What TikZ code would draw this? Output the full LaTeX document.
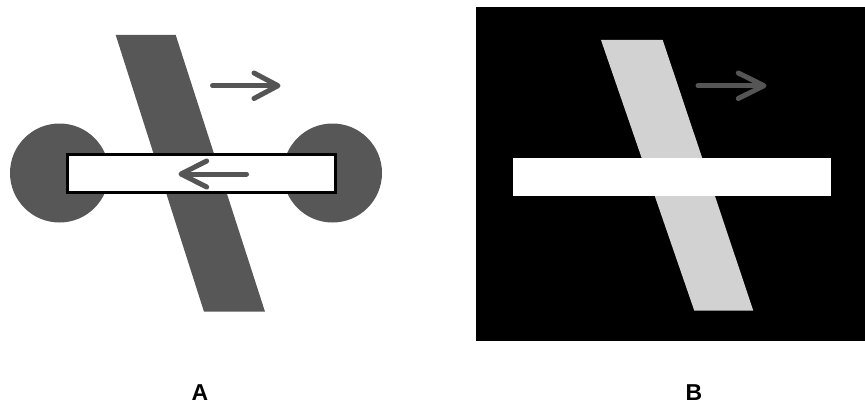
\documentclass[tikz,border=0pt]{standalone}
\usepackage{fontspec}
\setmainfont{Liberation Sans}
\definecolor{bargray}{RGB}{87,87,87}
\definecolor{arrowgray}{RGB}{85,85,85}
\definecolor{lightbar}{RGB}{210,210,210}
\begin{document}
\begin{tikzpicture}[x=1pt,y=-1pt,
  darkgray/.style={fill=bargray},
  arrowline/.style={draw=arrowgray,line width=5pt,line cap=round,line join=round},
  panellabel/.style={font=\bfseries\fontsize{23}{26}\selectfont,inner sep=0pt}]
\useasboundingbox (0,0) rectangle (865,404);
% Panel A
\fill[darkgray] (115.7,35) -- (175.7,35) -- (265,311.7) -- (204,311.7) -- cycle;
\fill[darkgray] (59.5,173) circle (49.5);
\fill[darkgray] (332.5,173) circle (49.5);
\draw[fill=white,line width=3pt] (67.5,154.5) rectangle (335.5,192);
\draw[arrowline] (246.5,174) -- (182,174);
\draw[arrowline] (206.7,161) -- (181,174) -- (206.7,187);
\draw[arrowline] (212.5,85.7) -- (276,85.7);
\draw[arrowline] (254,73) -- (278,85.7) -- (254,98.5);
% Panel B
\fill[black] (476,7.3) rectangle (865,340.7);
\fill[lightbar] (601,40) -- (662.7,40) -- (753.3,310.7) -- (694.3,310.7) -- cycle;
\fill[white] (512.7,157.7) rectangle (831,196);
\draw[arrowline] (698,85.7) -- (762,85.7);
\draw[arrowline] (738.3,73) -- (764,85.7) -- (738.3,98.5);
% Labels
\node[panellabel] (la) at (200,393) {A};
\node[panellabel] (lb) at (694,393) {B};
\end{tikzpicture}
\end{document}
